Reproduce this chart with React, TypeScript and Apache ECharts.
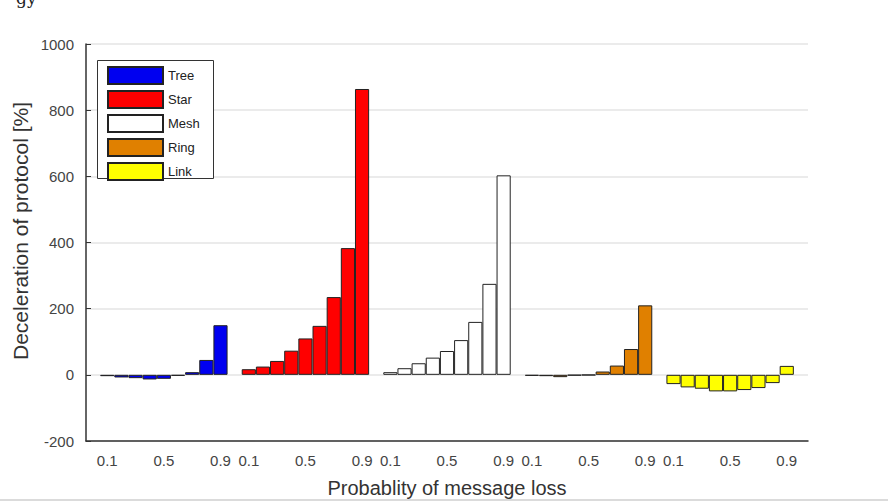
import React, { useEffect, useRef } from "react";
import * as echarts from "echarts";

const topologies = ["Tree", "Star", "Mesh", "Ring", "Link"];
const probabilities = ["0.1", "0.2", "0.3", "0.4", "0.5", "0.6", "0.7", "0.8", "0.9"];
const shownTickLabels = ["0.1", "0.5", "0.9"];
const yTicks = [-200, 0, 200, 400, 600, 800, 1000];

const treeValues = [-4, -8, -10, -14, -12, -3, 8, 45, 150];
const starValues = [17, 25, 42, 73, 110, 148, 235, 383, 864];
const meshValues = [8, 20, 35, 52, 72, 105, 160, 275, 603];
const ringValues = [-3, -4, -7, -2, -1, 10, 28, 78, 210];
const linkValues = [-28, -38, -42, -50, -50, -46, -40, -25, 27];

const colors = ["#0000f0", "#ff0000", "#ffffff", "#e08000", "#ffff00"];

const groupValues = [treeValues, starValues, meshValues, ringValues, linkValues];

// category layout: pad, group, gap, group, ..., group, pad
const categories: string[] = [""];
const groupStart: number[] = [];
topologies.forEach((_, g) => {
  if (g > 0) categories.push(" ");
  groupStart.push(categories.length);
  probabilities.forEach((p) => categories.push(p));
});
categories.push("");

const FONT = "'Liberation Sans', Arial, sans-serif";

export default function App() {
  const ref = useRef<HTMLDivElement>(null);
  useEffect(() => {
    if (!ref.current) return;
    const chart = echarts.init(ref.current, null, { renderer: "svg" });
    const series = topologies.map((name, g) => {
      const data: (number | null)[] = categories.map(() => null);
      groupValues[g].forEach((v, i) => {
        data[groupStart[g] + i] = v;
      });
      return {
        name,
        type: "bar",
        data,
        barWidth: "100%",
        barGap: "-100%",
        itemStyle: { color: colors[g], borderColor: "#222", borderWidth: 1 },
      };
    });
    const isShown = (idx: number, val: string) =>
      idx > 0 && idx < categories.length - 1 && shownTickLabels.includes(val);
    chart.setOption({
      animation: false,
      backgroundColor: "#ffffff",
      grid: { left: 86, right: 80, top: 44, bottom: 60 },
      legend: {
        data: topologies,
        orient: "vertical",
        left: 107,
        top: 66,
        padding: 0,
        itemWidth: 55,
        itemHeight: 17,
        itemGap: 5,
        icon: "rect",
        z: 20,
        textStyle: { fontFamily: FONT, fontSize: 13, color: "#222" },
      },
      graphic: [
        {
          type: "rect",
          z: 15,
          shape: { x: 97.5, y: 60.5, width: 116, height: 118 },
          style: { fill: "#ffffff", stroke: "#333", lineWidth: 1 },
        },
        {
          type: "line",
          z: 1,
          shape: { x1: 0, y1: 500, x2: 888, y2: 500 },
          style: { stroke: "#cfcfcf", lineWidth: 1.5 },
        },
        {
          type: "text",
          z: 1,
          x: 16,
          y: 6,
          style: {
            text: "gy",
            font: "17px 'DejaVu Serif', serif",
            fill: "#222",
            verticalAlign: "bottom",
          },
        },
        {
          type: "text",
          z: 1,
          x: 20,
          y: 231,
          rotation: Math.PI / 2,
          style: {
            text: "Deceleration of protocol [%]",
            font: "21px " + FONT,
            fill: "#333",
            align: "center",
            verticalAlign: "middle",
          },
        },
      ],
      xAxis: {
        type: "category",
        data: categories,
        boundaryGap: true,
        name: "Probablity of message loss",
        nameLocation: "middle",
        nameGap: 37,
        nameTextStyle: { fontFamily: FONT, fontSize: 20, color: "#333" },
        axisLine: { onZero: false, lineStyle: { color: "#333", width: 1.5 } },
        axisTick: {
          inside: true,
          length: 5,
          alignWithLabel: true,
          interval: isShown,
          lineStyle: { color: "#333" },
        },
        axisLabel: {
          interval: isShown,
          margin: 12,
          fontFamily: FONT,
          fontSize: 15,
          color: "#444",
        },
        splitLine: { show: false },
      },
      yAxis: {
        type: "value",
        min: yTicks[0],
        max: yTicks[yTicks.length - 1],
        interval: 200,
        axisLine: { show: true, lineStyle: { color: "#333", width: 1.5 } },
        axisTick: { show: true, inside: true, length: 5, lineStyle: { color: "#333" } },
        axisLabel: {
          margin: 12,
          fontFamily: FONT,
          fontSize: 15,
          color: "#444",
          formatter: (v: number) => String(v),
        },
        splitLine: { show: true, lineStyle: { color: "#e4e4e4", width: 1.5 } },
      },
      series,
    });
    return () => chart.dispose();
  }, []);
  return (
    <div
      ref={ref}
      style={{ position: "fixed", left: 0, top: 0, width: 888, height: 503 }}
    />
  );
}
